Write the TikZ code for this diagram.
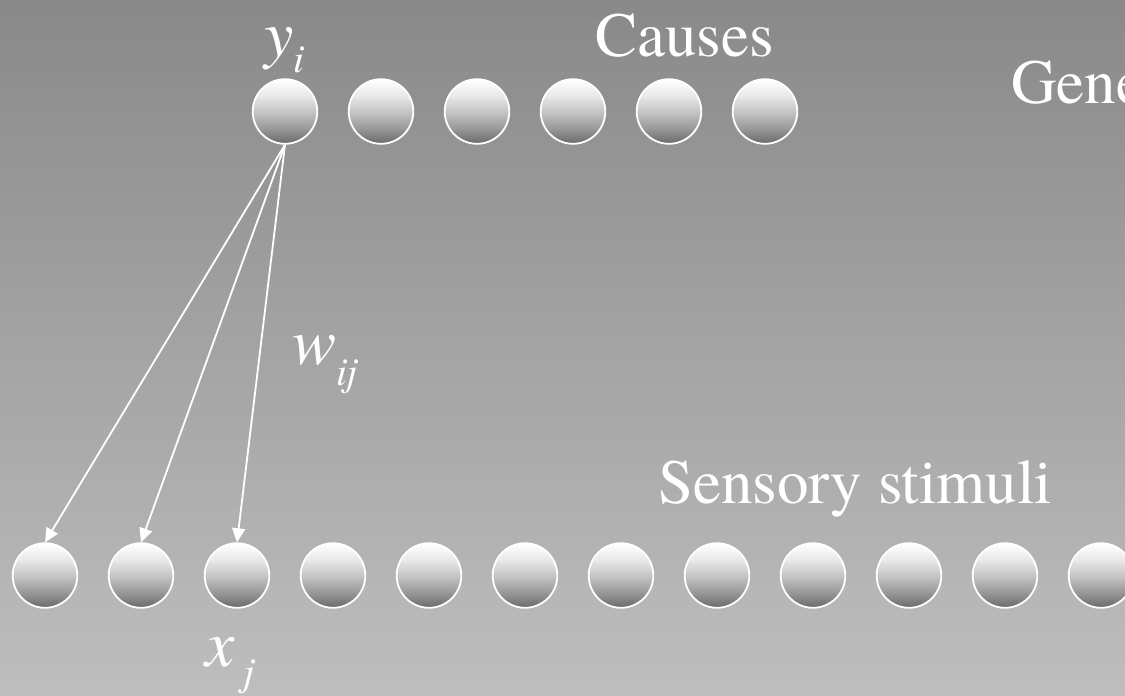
\documentclass[tikz,border=0pt]{standalone}
\usepackage{fontspec}
\setmainfont{TeX Gyre Termes}
\usetikzlibrary{arrows.meta}
\definecolor{bgtop}{HTML}{898989}
\definecolor{bgbot}{HTML}{BEBEBE}
\definecolor{ballbot}{HTML}{6A6A6A}
\definecolor{balllow}{HTML}{9C9C9C}
\definecolor{ballmid}{HTML}{C6C6C6}
\definecolor{ballhigh}{HTML}{E8E8E8}
\pgfdeclareverticalshading{ball}{100bp}{color(0bp)=(ballbot); color(25bp)=(ballbot); color(38bp)=(balllow); color(50bp)=(ballmid); color(62bp)=(ballhigh); color(75bp)=(white); color(100bp)=(white)}
\tikzset{
  unit/.style={circle, minimum size=64.6pt, inner sep=0pt, draw=white, line width=1.8pt, shading=ball},
  lbl/.style={anchor=base west, inner sep=0pt, text=white, font=\rmfamily\fontsize{63}{63}\selectfont},
  mlbl/.style={anchor=base west, inner sep=0pt, text=white, font=\rmfamily\itshape\fontsize{66}{66}\selectfont},
  conn/.style={draw=white, line width=1.8pt, -{Triangle[length=14pt,width=13pt,fill=white]}},
}
\newcommand{\subtxt}[1]{{\fontsize{40}{40}\selectfont #1}}
\begin{document}
\begin{tikzpicture}[x=1pt,y=-1pt]
\useasboundingbox (0,0) rectangle (1125,696);
\clip (0,0) rectangle (1125,696);
\shade[top color=bgtop, bottom color=bgbot] (0,0) rectangle (1125,696);
% top row (causes)
\foreach \i in {1,...,6}{
  \node[unit] (c\i) at ({285+96*(\i-1)},111.5) {};
}
% bottom row (sensory stimuli)
\foreach \i in {1,...,12}{
  \node[unit] (s\i) at ({45+96*(\i-1)},575.5) {};
}
% connectors
\draw[conn] (c1.south) -- (s1.north);
\draw[conn] (c1.south) -- (s2.north);
\draw[conn] (c1.south) -- (s3.north);
% labels
\node[lbl] (causes) at (595,56) {Causes};
\node[lbl] (gene) at (1011,103) {Gene};
\node[lbl] (sens) at (658,503) {Sensory stimuli};
\node[mlbl] (yi) at (264,56) {y\raisebox{-17pt}{\subtxt{i}}};
\node[mlbl] (wij) at (292,364) {w\raisebox{-21pt}{\subtxt{ij}}};
\node[mlbl] (xj) at (205,666) {x\hspace{9pt}\raisebox{-19pt}{\subtxt{j}}};
\end{tikzpicture}
\end{document}
